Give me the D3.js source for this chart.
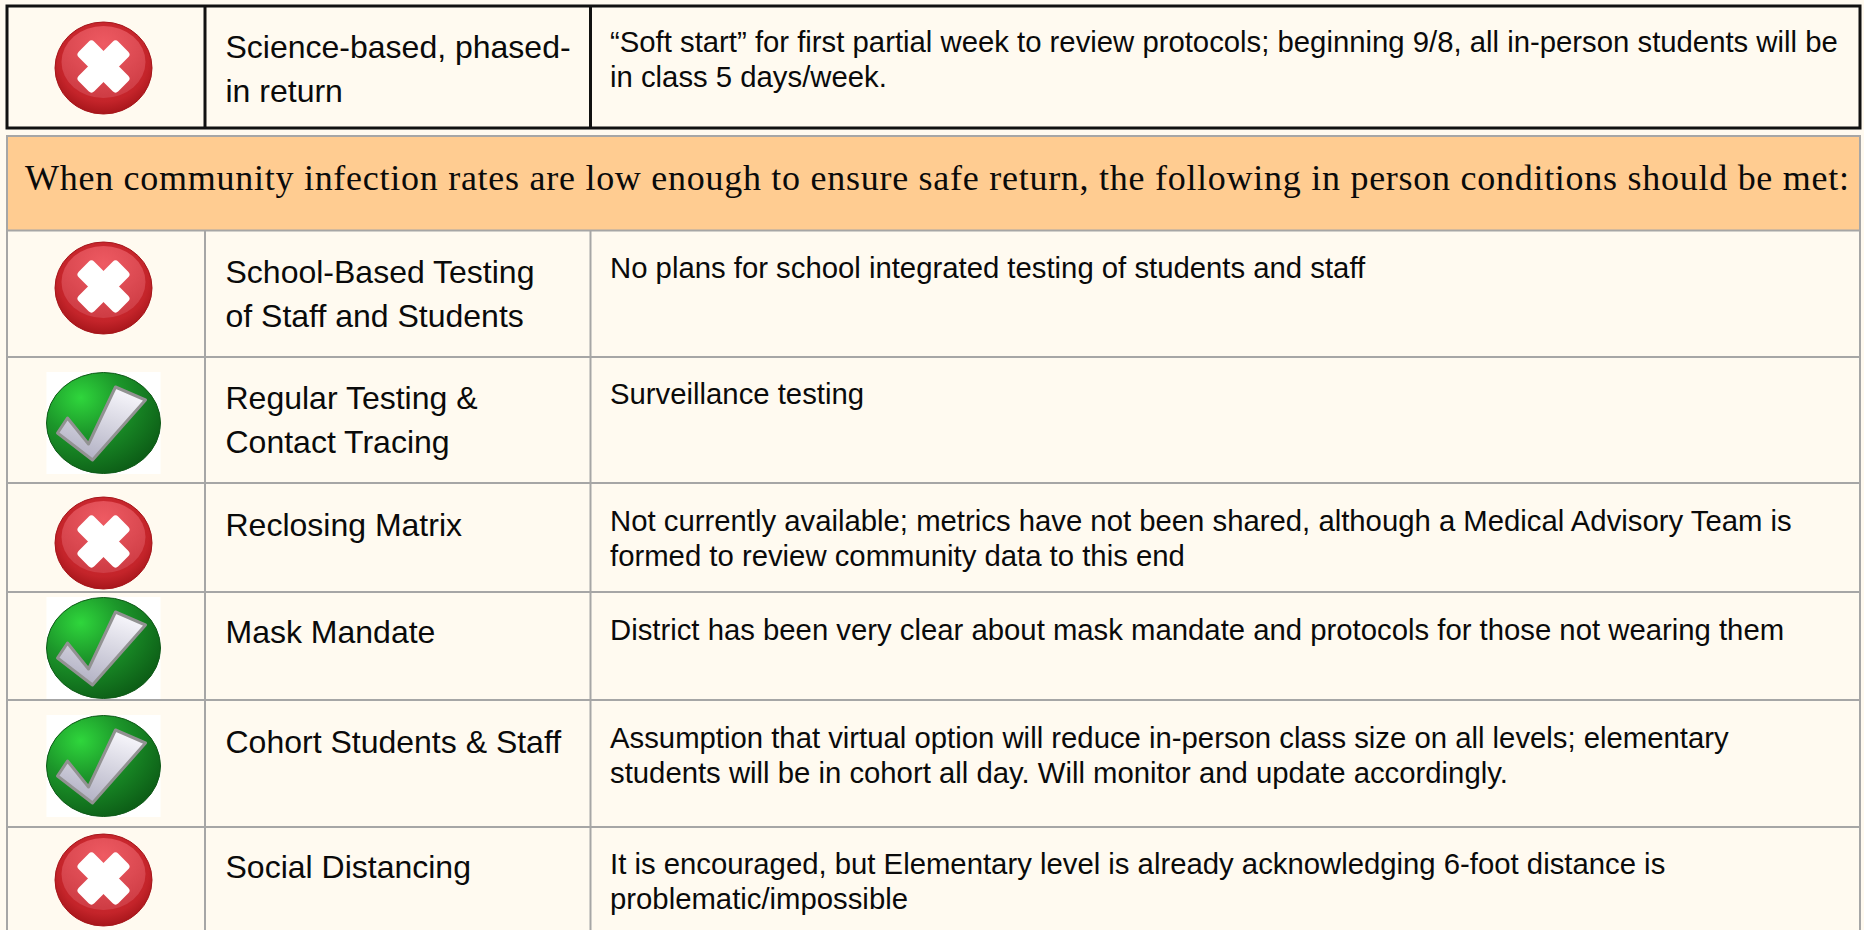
<!DOCTYPE html>
<html>
<head>
<meta charset="utf-8">
<script src="https://cdn.jsdelivr.net/npm/d3@7"></script>
<style>
  html, body { margin: 0; padding: 0; background: #fffaf0; overflow: hidden; }
  svg { display: block; }
</style>
</head>
<body>
<script>
const criteria = [
  ['Science-based, phased-', 'in return'],
  ['School-Based Testing', 'of Staff and Students'],
  ['Regular Testing &', 'Contact Tracing'],
  ['Reclosing Matrix'],
  ['Mask Mandate'],
  ['Cohort Students & Staff'],
  ['Social Distancing'],
]
const statuses = ['no', 'no', 'yes', 'no', 'yes', 'yes', 'no']
const notes = [
  ['“Soft start” for first partial week to review protocols; beginning 9/8, all in-person students will be', 'in class 5 days/week.'],
  ['No plans for school integrated testing of students and staff'],
  ['Surveillance testing'],
  ['Not currently available; metrics have not been shared, although a Medical Advisory Team is', 'formed to review community data to this end'],
  ['District has been very clear about mask mandate and protocols for those not wearing them'],
  ['Assumption that virtual option will reduce in-person class size on all levels; elementary', 'students will be in cohort all day. Will monitor and update accordingly.'],
  ['It is encouraged, but Elementary level is already acknowledging 6-foot distance is', 'problematic/impossible'],
]
const banner = 'When community infection rates are low enough to ensure safe return, the following in person conditions should be met:'

// layout
const width = 1864
const height = 930
const rowEdges = [6, 128, 230.5, 357, 483, 592, 700, 827, 945]
const iconCentres = [68, 288, 423, 543, 648, 766, 880]
const criteriaFirstLine = [57.5, 283, 409, 536, 643, 753, 878]
const notesFirstLine = [52, 278, 404, 531, 640, 748, 874]
const colX = [7, 205, 590.5, 1860]

const rowIndex = d3.range(criteria.length)
const rowTop = d3.scaleOrdinal(rowIndex, [rowEdges[0], ...rowEdges.slice(2, 8)])
const rowBottom = d3.scaleOrdinal(rowIndex, [rowEdges[1], ...rowEdges.slice(3, 9)])
const iconY = d3.scaleOrdinal(rowIndex, iconCentres)

const svg = d3
  .select('body')
  .append('svg')
  .attr('width', width)
  .attr('height', height)
  .attr('viewBox', [0, 0, width, height])

svg
  .append('rect')
  .attr('width', width)
  .attr('height', height)
  .attr('fill', '#fffaf0')

const defs = svg.append('defs')

function gradient(id, cx, cy, r, stops) {
  defs
    .append('radialGradient')
    .attr('id', id)
    .attr('cx', cx)
    .attr('cy', cy)
    .attr('r', r)
    .selectAll('stop')
    .data(stops)
    .join('stop')
    .attr('offset', d => d[0])
    .attr('stop-color', d => d[1])
}
gradient('redBase', 0.5, 0.4, 0.62, [[0, '#d9323a'], [0.75, '#c4242a'], [1, '#a31419']])
gradient('redTop', 0.5, 0.25, 0.72, [[0, '#ee5a62'], [0.6, '#dc4a52'], [1, '#cf3d45']])
gradient('greenBase', 0.3, 0.25, 0.8, [[0, '#2fd63c'], [0.45, '#1c962a'], [1, '#0d5f17']])

defs
  .append('linearGradient')
  .attr('id', 'tickFill')
  .attr('x1', 0.7)
  .attr('y1', 0)
  .attr('x2', 0.3)
  .attr('y2', 1)
  .selectAll('stop')
  .data([[0, '#f8f7fc'], [1, '#b0afc2']])
  .join('stop')
  .attr('offset', d => d[0])
  .attr('stop-color', d => d[1])

// banner
const bannerBox = svg.append('g')
bannerBox
  .append('rect')
  .attr('x', colX[0])
  .attr('y', 136)
  .attr('width', colX[3] - colX[0])
  .attr('height', rowEdges[2] - 136)
  .attr('fill', '#ffcc91')
  .attr('stroke', '#a6a6a6')
  .attr('stroke-width', 2)
bannerBox
  .append('text')
  .attr('x', 25)
  .attr('y', 190)
  .attr('font-family', 'Liberation Serif')
  .attr('font-size', 36)
  .attr('textLength', 1824)
  .attr('lengthAdjust', 'spacing')
  .attr('fill', '#0a0a0a')
  .text(banner)

// grid lines for the lower table
const grid = svg.append('g').attr('stroke', '#a6a6a6').attr('stroke-width', 2)
grid
  .selectAll('line.row')
  .data(rowIndex.slice(1))
  .join('line')
  .attr('class', 'row')
  .attr('x1', colX[0])
  .attr('x2', colX[3])
  .attr('y1', d => rowBottom(d))
  .attr('y2', d => rowBottom(d))
grid
  .selectAll('line.col')
  .data(colX)
  .join('line')
  .attr('class', 'col')
  .attr('x1', d => d)
  .attr('x2', d => d)
  .attr('y1', rowEdges[2])
  .attr('y2', height)

// top row has its own heavy border
const topRow = svg.append('g').attr('stroke', '#111').attr('stroke-width', 3).attr('fill', 'none')
topRow
  .append('rect')
  .attr('x', colX[0])
  .attr('y', rowTop(0))
  .attr('width', colX[3] - colX[0])
  .attr('height', rowBottom(0) - rowTop(0))
topRow
  .selectAll('line')
  .data(colX.slice(1, 3))
  .join('line')
  .attr('x1', d => d)
  .attr('x2', d => d)
  .attr('y1', rowTop(0))
  .attr('y2', rowBottom(0))

function drawNo(g) {
  g.append('ellipse').attr('rx', 48.5).attr('ry', 46).attr('fill', 'url(#redBase)').attr('stroke', '#a5151a')
  g.append('ellipse').attr('cy', -6).attr('rx', 42).attr('ry', 36).attr('fill', 'url(#redTop)')
  g
    .append('g')
    .selectAll('rect')
    .data([45, -45])
    .join('rect')
    .attr('x', -28)
    .attr('y', -11)
    .attr('width', 56)
    .attr('height', 22)
    .attr('rx', 4)
    .attr('fill', '#fff')
    .attr('transform', d => `translate(0,-1.5) rotate(${d})`)
}

function drawYes(g) {
  g.append('rect').attr('x', -57).attr('y', -51).attr('width', 114).attr('height', 102).attr('fill', '#fff')
  g.append('ellipse').attr('rx', 57).attr('ry', 50.5).attr('fill', 'url(#greenBase)').attr('stroke', '#0f5a18')
  g
    .append('path')
    .attr('d', d3.line()([[-46, 10], [-36, -5], [-15, 21], [12, -36], [42, -23], [-11, 37]]) + 'Z')
    .attr('fill', 'url(#tickFill)')
    .attr('stroke', '#929292')
    .attr('stroke-width', 3)
    .attr('stroke-linejoin', 'round')
}

const rows = svg
  .append('g')
  .selectAll('g')
  .data(rowIndex)
  .join('g')

rows
  .append('g')
  .attr('transform', d => `translate(103.5,${iconY(d)})`)
  .each(function(d) {
    const g = d3.select(this)
    if (statuses[d] === 'yes') {
      drawYes(g)
    } else {
      drawNo(g)
    }
  })

rows
  .append('text')
  .attr('font-family', 'Liberation Sans')
  .attr('font-size', 32)
  .attr('fill', '#0a0a0a')
  .selectAll('tspan')
  .data(d => criteria[d].map(line => ({ line, row: d })))
  .join('tspan')
  .attr('x', 225.5)
  .attr('y', (d, i) => criteriaFirstLine[d.row] + i * 44)
  .text(d => d.line)

rows
  .append('text')
  .attr('font-family', 'Liberation Sans')
  .attr('font-size', 29.3)
  .attr('fill', '#0a0a0a')
  .selectAll('tspan')
  .data(d => notes[d].map(line => ({ line, row: d })))
  .join('tspan')
  .attr('x', 610)
  .attr('y', (d, i) => notesFirstLine[d.row] + i * 35)
  .text(d => d.line)
</script>
</body>
</html>
